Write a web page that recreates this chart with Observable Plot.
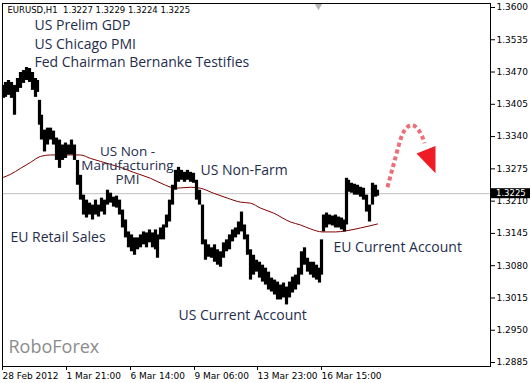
<!DOCTYPE html>
<html><head><meta charset="utf-8">
<script src="https://cdn.jsdelivr.net/npm/d3@7"></script>
<script src="https://cdn.jsdelivr.net/npm/@observablehq/plot@0.6"></script>
<style>html,body{margin:0;padding:0;background:#fff}svg{display:block}</style>
</head><body><div id="chart"></div>
<script>
// hourly bars (bar index), highs and lows
const bars = [1,3,6,9,12,15,18,21,24,27,30,33,35,37,39,42,45,48,51,54,57,60,63,66,69,72,75,78,81,84,87,90,93,96,99,102,105,108,111,114,117,120,123,126,129,132,135,138,141,144,147,150,153,155,158,161,164,167,170,173,176,179,182,185,188,191,194,197,200,203,206,209,212,215,218,221,224,227,230,233,236,239,242,245,248,251,254,257,260,263,266,269,272,275,278,281,284,287,290,293,296,299,302,305,308,311,314,317,319,321,324,327,330,333,336,339,342,344,346,349,352,355,358,361,364,367,370,373,375];
const highs = [1.3443,1.3449,1.3453,1.3449,1.3443,1.3457,1.3469,1.3473,1.3479,1.3477,1.3469,1.3457,1.3453,1.3413,1.3383,1.3353,1.3357,1.3357,1.3351,1.3337,1.3333,1.3323,1.3327,1.3323,1.3333,1.3323,1.3292,1.3262,1.3222,1.3212,1.3206,1.3202,1.3212,1.3202,1.3216,1.3212,1.3232,1.3226,1.3218,1.3220,1.3212,1.3192,1.3172,1.3148,1.3142,1.3136,1.3136,1.3142,1.3148,1.3146,1.3152,1.3146,1.3152,1.3142,1.3156,1.3162,1.3182,1.3212,1.3242,1.3272,1.3278,1.3272,1.3268,1.3272,1.3268,1.3266,1.3252,1.3232,1.3202,1.3132,1.3122,1.3116,1.3122,1.3112,1.3108,1.3126,1.3132,1.3142,1.3152,1.3156,1.3168,1.3188,1.3162,1.3142,1.3112,1.3101,1.3091,1.3087,1.3081,1.3075,1.3067,1.3055,1.3051,1.3047,1.3041,1.3045,1.3037,1.3047,1.3057,1.3061,1.3075,1.3108,1.3116,1.3095,1.3087,1.3087,1.3081,1.3075,1.3132,1.3182,1.3186,1.3182,1.3180,1.3182,1.3178,1.3176,1.3172,1.3256,1.3252,1.3246,1.3244,1.3242,1.3238,1.3236,1.3222,1.3202,1.3246,1.3242,1.3232];
const lows = [1.3417,1.3419,1.3423,1.3417,1.3383,1.3429,1.3437,1.3447,1.3453,1.3449,1.3433,1.3419,1.3429,1.3363,1.3333,1.3309,1.3323,1.3333,1.3323,1.3292,1.3276,1.3292,1.3296,1.3303,1.3303,1.3292,1.3242,1.3212,1.3182,1.3176,1.3182,1.3172,1.3182,1.3178,1.3188,1.3182,1.3202,1.3206,1.3198,1.3196,1.3182,1.3156,1.3136,1.3116,1.3108,1.3101,1.3112,1.3116,1.3122,1.3116,1.3126,1.3116,1.3112,1.3095,1.3132,1.3132,1.3156,1.3168,1.3202,1.3232,1.3248,1.3252,1.3248,1.3252,1.3248,1.3246,1.3212,1.3202,1.3122,1.3091,1.3097,1.3095,1.3087,1.3081,1.3077,1.3095,1.3108,1.3112,1.3128,1.3136,1.3142,1.3148,1.3132,1.3101,1.3051,1.3061,1.3067,1.3055,1.3047,1.3041,1.3031,1.3027,1.3021,1.3011,1.3011,1.3015,1.3001,1.3015,1.3025,1.3031,1.3041,1.3061,1.3081,1.3067,1.3061,1.3055,1.3051,1.3045,1.3061,1.3148,1.3156,1.3162,1.3160,1.3156,1.3156,1.3152,1.3148,1.3162,1.3228,1.3226,1.3222,1.3222,1.3218,1.3212,1.3188,1.3168,1.3202,1.3218,1.3220];

// moving average
const maBars = [1,8,18,28,38,48,58,68,78,88,98,108,118,131,148,163,173,188,198,211,225,238,248,258,271,288,298,308,320,333,343,358,375];
const maValues = [1.3258,1.3264,1.3276,1.3288,1.3300,1.3303,1.3303,1.3303,1.3303,1.3296,1.3290,1.3284,1.3278,1.3268,1.3256,1.3242,1.3236,1.3238,1.3236,1.3226,1.3216,1.3208,1.3206,1.3196,1.3186,1.3168,1.3162,1.3154,1.3148,1.3148,1.3150,1.3156,1.3164];

// axes
const priceTicks = [1.3600,1.3535,1.3470,1.3405,1.3340,1.3275,1.3210,1.3145,1.3080,1.3015,1.2950,1.2885];
const timeTickBars = [1,65,129,193,256,320];
const timeTickLabels = ["28 Feb 2012","1 Mar 21:00","6 Mar 14:00","9 Mar 06:00","13 Mar 23:00","16 Mar 15:00"];
const lastPrice = 1.3225;
const header = "EURUSD,H1  1.3227 1.3229 1.3224 1.3225";
const shiftMarkBar = 316;

// news annotations
const newsLabels = ["US Prelim GDP","US Chicago PMI","Fed Chairman Bernanke Testifies","US Non -\nManufacturing\nPMI","US Non-Farm","EU Retail Sales","US Current Account","EU Current Account"];
const newsBars = [32,32,32,125,198,8,176,331];
const newsPrices = [1.3564,1.3526,1.3489,1.3282,1.3272,1.3136,1.2979,1.3116];
const newsAnchors = ["start","start","start","middle","start","start","start","start"];
const brand = "RoboForex";
const brandBar = 6, brandPrice = 1.2915;

// forecast arrow
const arrowBars = [385,390,395,401,410,418,422];
const arrowPrices = [1.3238,1.3276,1.3313,1.3349,1.3363,1.3347,1.3327];
const headBars = [414,433,433];
const headPrices = [1.3306,1.3321,1.3266];

const candles = bars.map((b, i) => ({bar: b, high: highs[i], low: lows[i]}));
const ma = maBars.map((b, i) => ({bar: b, v: maValues[i]}));
const news = newsLabels.map((t, i) => ({t, bar: newsBars[i], p: newsPrices[i], a: newsAnchors[i]}));
const arrow = arrowBars.map((b, i) => ({bar: b, p: arrowPrices[i]}));
const head = headBars.map((b, i) => ({bar: b, p: headPrices[i]}));
const textColor = "#1f2d4d";
const annFont = "'Open Sans', sans-serif";

const plot = Plot.plot({
  width: 530, height: 383,
  marginLeft: 2, marginRight: 40, marginTop: 3, marginBottom: 17,
  x: {domain: [0, 488], axis: null},
  y: {domain: [1.2877, 1.3608], axis: null},
  style: {background: "white", fontFamily: "'DejaVu Sans', sans-serif", color: "black"},
  marks: [
    Plot.ruleY([lastPrice], {stroke: "#c0c0c0", strokeWidth: 1}),
    Plot.line(ma, {x: "bar", y: "v", stroke: "#7f0000", strokeWidth: 1, curve: "monotone-x"}),
    Plot.ruleX(candles, {x: "bar", y1: "low", y2: "high", stroke: "black", strokeWidth: 3.2}),
    Plot.line(arrow, {x: "bar", y: "p", curve: "natural", stroke: "#e84a58", strokeOpacity: 0.8, strokeWidth: 4, strokeDasharray: "4 3", strokeLinecap: "butt"}),
    Plot.line(head, {x: "bar", y: "p", fill: "#ee1c25", stroke: "none"}),
    Plot.text(news.filter(d => d.a === "start"), {x: "bar", y: "p", text: "t", textAnchor: "start", lineAnchor: "middle", fill: textColor, fontSize: 14, fontFamily: annFont}),
    Plot.text(news.filter(d => d.a === "middle"), {x: "bar", y: "p", text: "t", textAnchor: "middle", lineAnchor: "middle", lineHeight: 1.07, fill: textColor, fontSize: 13.5, fontFamily: annFont}),
    Plot.text([brand], {x: brandBar, y: brandPrice, text: d => d, textAnchor: "start", lineAnchor: "middle", fill: "#8c8c8c", fontSize: 18, fontFamily: annFont}),
    Plot.text([header], {frameAnchor: "top-left", text: d => d, dx: 5, dy: 3, fontSize: 8.5, fill: "black"}),
    Plot.dot([shiftMarkBar], {x: d => d, frameAnchor: "top", symbol: "triangle", rotate: 180, r: 3, fill: "#b4b4b4", stroke: "none", dy: 2}),
    Plot.axisY({anchor: "right", ticks: priceTicks, tickFormat: d3.format(".4f"), tickSize: 4, tickPadding: 2, fontSize: 9, stroke: "black", fill: "black", label: null}),
    Plot.axisX({ticks: timeTickBars, tickFormat: d => timeTickLabels[timeTickBars.indexOf(d)], tickSize: 4, tickPadding: 2, textAnchor: "start", dx: -1, fontSize: 9, stroke: "black", fill: "black", label: null}),
    Plot.frame({stroke: "black"})
  ]
});

const yScale = plot.scale("y");
const yy = yScale.apply(lastPrice);
const svg = d3.select(plot);
svg.append("rect").attr("x", 490).attr("y", yy - 5).attr("width", 40).attr("height", 10).attr("fill", "black");
svg.append("text").attr("x", 496).attr("y", yy).attr("dy", "0.35em").attr("fill", "white").attr("text-anchor", "start")
  .attr("font-size", 8.5).attr("font-family", "'DejaVu Sans', sans-serif").text(d3.format(".4f")(lastPrice));
document.getElementById("chart").appendChild(plot);
</script>
</body></html>
